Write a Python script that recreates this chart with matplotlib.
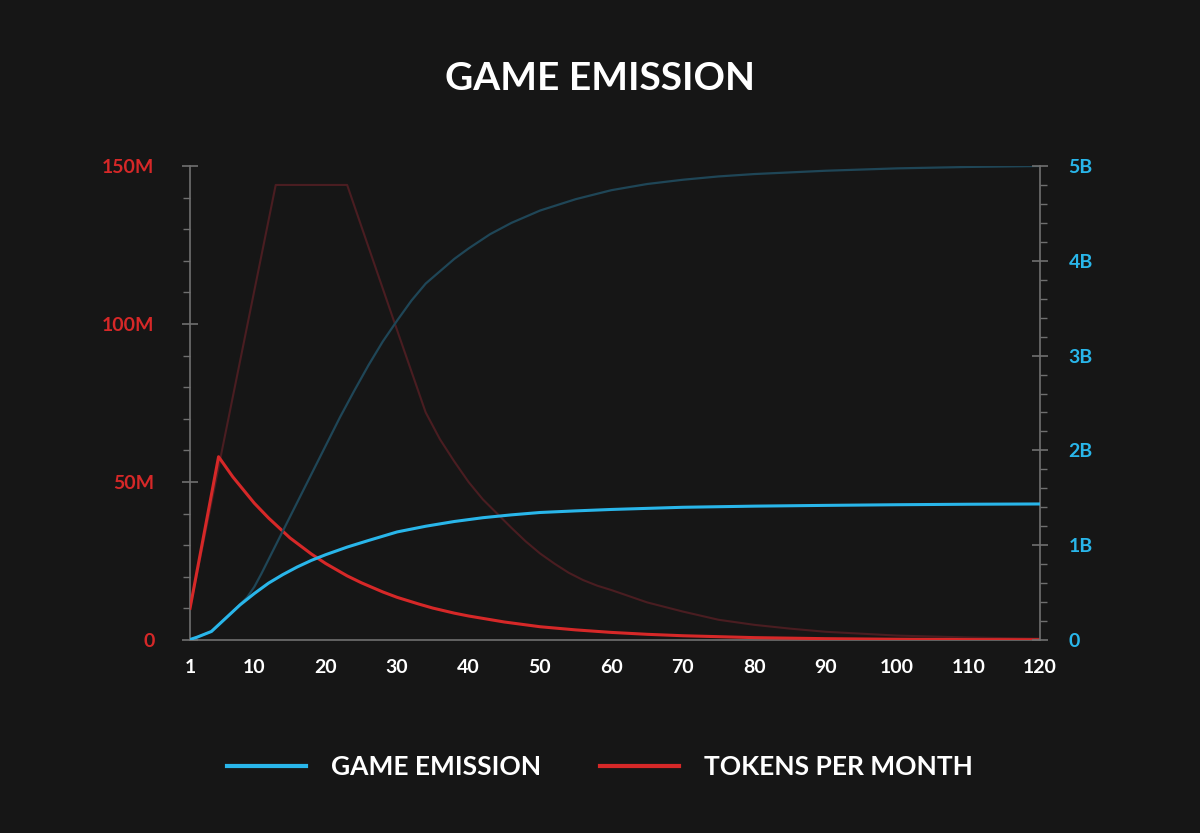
import matplotlib.pyplot as plt
from matplotlib.ticker import MultipleLocator, FixedLocator

# months and values
tpm_months = [1, 5, 7, 10, 12, 15, 18, 20, 23, 25, 28, 30, 33, 35, 38, 40, 45, 50, 55, 60, 65, 70,
              80, 90, 100, 110, 120]
tpm_values = [10, 58, 51.6, 43.3, 38.6, 32.3, 27.2, 24.2, 20.3, 18.1, 15.2, 13.5, 11.4, 10.1, 8.5,
              7.6, 5.7, 4.2, 3.2, 2.4, 1.8, 1.35, 0.75, 0.42, 0.24, 0.13, 0.07]  # M

game_months = [1, 2, 3, 4, 5, 6, 7, 8, 10, 12, 14, 16, 18, 20, 23, 26, 30, 34, 38, 42, 46, 50,
               55, 60, 70, 80, 90, 100, 110, 120]
game_values = [0.005, 0.03, 0.06, 0.09, 0.16, 0.23, 0.30, 0.37, 0.49, 0.6, 0.69, 0.77, 0.84, 0.9,
               0.98, 1.05, 1.14, 1.2, 1.25, 1.29, 1.32, 1.345, 1.362, 1.377, 1.40, 1.412, 1.42,
               1.427, 1.432, 1.435]  # B

ghost_tpm_months = [1, 13, 23, 30, 34, 36, 38, 40, 42, 44, 46, 48, 50, 52, 54, 56, 58, 60, 65, 70,
                    75, 80, 85, 90, 100, 110, 120]
ghost_tpm_values = [10, 144, 144, 98, 72, 63.5, 56.5, 50, 44.5, 40, 35.5, 31.2, 27.4, 24.2, 21.3,
                    19.0, 17.2, 15.8, 11.9, 9.0, 6.4, 4.8, 3.6, 2.6, 1.4, 0.8, 0.4]  # M

ghost_game_months = [1, 4, 7, 9, 10, 11, 12, 13, 14, 16, 18, 20, 22, 24, 26, 28, 30, 32, 34, 36,
                     38, 40, 43, 46, 50, 55, 60, 65, 70, 75, 80, 90, 100, 110, 120]
ghost_game_values = [0.0, 0.09, 0.3, 0.45, 0.56, 0.7, 0.85, 1.0, 1.15, 1.45, 1.75, 2.05, 2.35,
                     2.63, 2.9, 3.15, 3.37, 3.58, 3.76, 3.89, 4.02, 4.13, 4.28, 4.40, 4.53, 4.65,
                     4.745, 4.81, 4.855, 4.89, 4.915, 4.95, 4.975, 4.99, 5.0]  # B

x_ticks = [1, 10, 20, 30, 40, 50, 60, 70, 80, 90, 100, 110, 120]
left_ticks = [0, 50, 100, 150]
left_labels = ['0', '50M', '100M', '150M']
right_ticks = [0, 1, 2, 3, 4, 5]
right_labels = ['0', '1B', '2B', '3B', '4B', '5B']

bg = '#161616'
blue = '#29b6ea'
red = '#d62828'
ghost_blue = '#1f4657'
ghost_red = '#4a1d21'
grey = '#6f6f6f'
font = 'Lato'

fig = plt.figure(figsize=(12, 8.33), dpi=100, facecolor=bg)
ax = fig.add_axes([190 / 1200, 1 - 640 / 833, 850 / 1200, 474 / 833])
ax.set_facecolor(bg)
ax2 = ax.twinx()

ax.plot(ghost_tpm_months, [v * 1e6 for v in ghost_tpm_values], color=ghost_red, linewidth=1.5, zorder=1)
l_red, = ax.plot(tpm_months, [v * 1e6 for v in tpm_values], color=red, linewidth=2.2, zorder=3,
                 label='TOKENS PER MONTH')
ax2.plot(ghost_game_months, [v * 1e9 for v in ghost_game_values], color=ghost_blue, linewidth=1.6, zorder=1)
l_blue, = ax2.plot(game_months, [v * 1e9 for v in game_values], color=blue, linewidth=2.2, zorder=3,
                   label='GAME EMISSION')

ax.set_xlim(1, 120)
ax.set_ylim(0, 150e6)
ax2.set_ylim(0, 5e9)

ax.set_xticks(x_ticks)
ax.set_xticklabels([str(t) for t in x_ticks])
ax.yaxis.set_major_locator(FixedLocator([t * 1e6 for t in left_ticks]))
ax.set_yticklabels(left_labels)
ax.yaxis.set_minor_locator(MultipleLocator(10e6))
ax2.yaxis.set_major_locator(FixedLocator([t * 1e9 for t in right_ticks]))
ax2.set_yticklabels(right_labels)
ax2.yaxis.set_minor_locator(MultipleLocator(0.2e9))

for a in (ax, ax2):
    for s in a.spines.values():
        s.set_color(grey)
        s.set_linewidth(1.2)
    a.spines['top'].set_visible(False)

ax.spines['right'].set_visible(False)
ax2.spines['left'].set_visible(False)
ax2.spines['bottom'].set_visible(False)

ax.tick_params(axis='x', length=0, pad=14, labelsize=14, labelcolor='white')
ax.tick_params(axis='y', which='major', direction='inout', length=11, width=1.2, color=grey,
               pad=20, labelsize=14, labelcolor=red)
ax.tick_params(axis='y', which='minor', direction='out', length=5, width=1, color=grey)
ax2.tick_params(axis='y', which='major', direction='inout', length=11, width=1.2, color=grey,
                pad=15, labelsize=14, labelcolor=blue)
ax2.tick_params(axis='y', which='minor', direction='out', length=5, width=1, color=grey)

for lbl in ax.get_xticklabels() + ax.get_yticklabels() + ax2.get_yticklabels():
    lbl.set_fontfamily(font)
    lbl.set_fontweight('bold')

fig.text(0.5, 1 - 78 / 833, 'GAME EMISSION', color='white', fontsize=28, fontweight='bold',
         family=font, ha='center', va='center')

leg = fig.legend(handles=[l_blue, l_red], loc='center', bbox_to_anchor=(0.5, 1 - 767 / 833),
                 ncol=2, frameon=False, handlelength=3.0, handletextpad=0.95, columnspacing=2.2,
                 prop={'family': font, 'weight': 'bold', 'size': 19})
for t in leg.get_texts():
    t.set_color('white')
for h in leg.legend_handles:
    h.set_linewidth(3)

fig.savefig('out.png', dpi=100, facecolor=bg)
